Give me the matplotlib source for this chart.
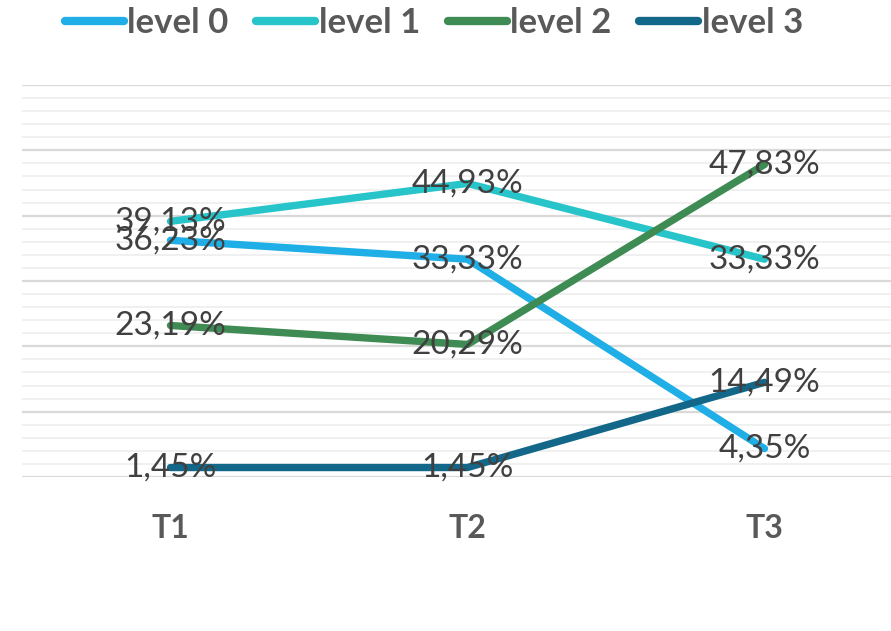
import matplotlib.pyplot as plt
from matplotlib.ticker import MultipleLocator

# Data
periods = ['T1', 'T2', 'T3']
level0 = [36.23, 33.33, 4.35]
level1 = [39.13, 44.93, 33.33]
level2 = [23.19, 20.29, 47.83]
level3 = [1.45, 1.45, 14.49]
series_names = ['level 0', 'level 1', 'level 2', 'level 3']
colors = ['#1FAEE6', '#27C4C9', '#3E8B53', '#13688A']

plt.rcParams['font.family'] = ['Lato', 'DejaVu Sans']

W, H = 891, 631
fig = plt.figure(figsize=(W / 100, H / 100), dpi=100)
# plot area runs a little past the right edge of the picture
ax = fig.add_axes([22 / W, (H - 477) / H, (913 - 22) / W, (477 - 85) / H])

x = range(len(periods))
for name, vals, c in zip(series_names, [level0, level1, level2, level3], colors):
    ax.plot(x, vals, color=c, lw=5.3, solid_capstyle='round', label=name, zorder=3)

# data labels centred on the points
for vals in [level0, level1, level2, level3]:
    for xi, v in zip(x, vals):
        txt = f"{v:.2f}%".replace('.', ',')
        ax.text(xi, v, txt, ha='center', va='center', fontsize=24,
                color='#404040', zorder=4)

ax.set_xlim(-0.5, 2.5)
ax.set_ylim(0, 60)
ax.yaxis.set_major_locator(MultipleLocator(10))
ax.yaxis.set_minor_locator(MultipleLocator(2))
ax.grid(axis='y', which='major', color='#D9D9D9', lw=1.6, zorder=0)
ax.grid(axis='y', which='minor', color='#F0F0F0', lw=1.4, zorder=0)
ax.set_axisbelow(True)
for s in ax.spines.values():
    s.set_visible(False)
ax.tick_params(axis='y', which='both', left=False, labelleft=False)
ax.tick_params(axis='x', length=0, pad=27)
ax.set_xticks(list(x))
ax.set_xticklabels(periods, fontsize=23, fontweight='bold', color='#595959')

leg = fig.legend(loc='upper center', bbox_to_anchor=(0.487, 1.038), ncol=4,
                 frameon=False, handlelength=1.7, handletextpad=0.1,
                 columnspacing=0.8, prop={'size': 25, 'weight': 'bold'})
for t in leg.get_texts():
    t.set_color('#595959')
for h in leg.legend_handles:
    h.set_linewidth(6)
    h.set_solid_capstyle('round')

fig.savefig('out.png', dpi=100)
